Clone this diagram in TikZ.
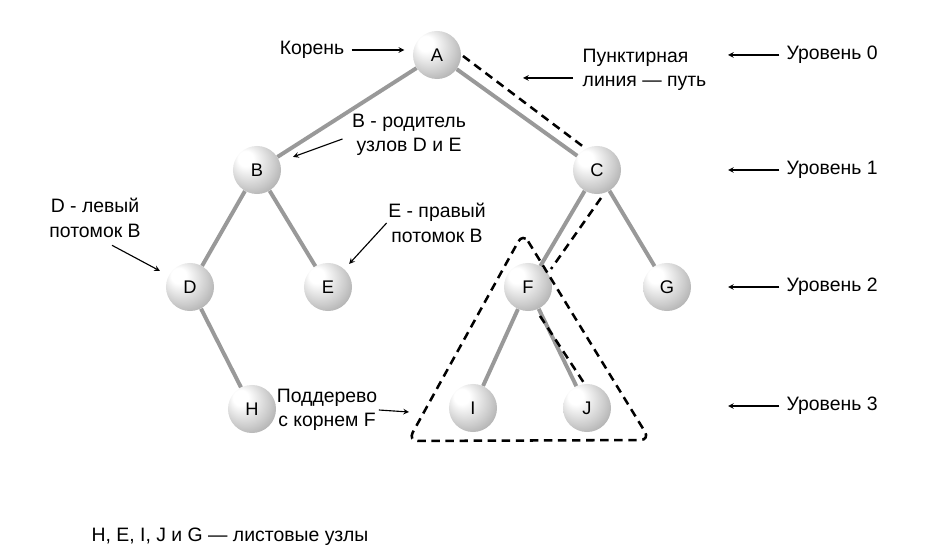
\documentclass[tikz,border=0pt]{standalone}
\usepackage{fontspec}
\setmainfont{Liberation Sans}
\usepackage{tikz}

\pgfdeclareradialshading{nodeball}{\pgfpoint{-14bp}{14bp}}{color(0bp)=(white); color(8bp)=(white); color(25bp)=(black!20); color(40bp)=(black!40); color(50bp)=(black!52)}

\begin{document}
\begin{tikzpicture}[x=0.025cm,y=-0.025cm,
  tree node/.style={circle,shading=nodeball,minimum size=1.2cm,inner sep=0pt,
    font=\fontsize{13}{15}\selectfont},
  tree edge/.style={line width=2.8pt,draw=black!40},
  path line/.style={line width=1.8pt,dash pattern=on 6pt off 4pt},
  note/.style={font=\fontsize{13.8}{17.5}\selectfont,align=center,inner sep=1pt},
  note arrow/.style={->,>=stealth,line width=0.8pt}]
  \useasboundingbox (0,0) rectangle (927,556);

  \node[tree node] (A) at (437,55) {A};
  \node[tree node] (B) at (257,170) {B};
  \node[tree node] (C) at (597,170) {C};
  \node[tree node] (D) at (190,287) {D};
  \node[tree node] (E) at (328,287) {E};
  \node[tree node] (F) at (528,287) {F};
  \node[tree node] (G) at (667,287) {G};
  \node[tree node] (H) at (252,409) {H};
  \node[tree node] (I) at (473,408) {I};
  \node[tree node] (J) at (587,408) {J};

  \path[tree edge]
    (A) edge (B)
        edge (C)
    (B) edge (D)
        edge (E)
    (C) edge (F)
        edge (G)
    (D) edge (H)
    (F) edge (I)
        edge (J);

  % dashed path A - C - F - J
  \draw[path line] ([shift={(26,1)}]A.center) -- ([shift={(-12,-22)}]C.center)
    ([shift={(4,28)}]C.center) -- ([shift={(23,-18)}]F.center)
    ([shift={(12,29)}]F.center) -- ([shift={(-3,-25)}]J.center);

  % subtree of F
  \coordinate (subTop) at (523,233);
  \coordinate (subRight) at (650,440);
  \coordinate (subLeft) at (408,441);
  \draw[path line,rounded corners=7pt] (subTop) -- (subRight) -- (subLeft) -- cycle;

  % notes
  \node[note] (rootnote) at (312,50) {Корень};
  \draw[note arrow,shorten <=4pt,shorten >=6pt] (rootnote.east) -- (A.west |- rootnote.east);

  \node[note,align=left,anchor=west] (pathnote) at (581,70) {Пунктирная\\линия — путь};
  \coordinate (pathtip) at (523,78);
  \draw[note arrow] ([shift={(-8,8)}]pathnote.west) -- (pathtip);

  \node[note] (parentnote) at (409,135) {B - родитель\\узлов D и E};
  \draw[note arrow,shorten >=10pt] ([shift={(-8,4)}]parentnote.west) -- (B);

  \node[note] (leftnote) at (95,218) {D - левый\\потомок B};
  \draw[note arrow,shorten >=7pt] ([shift={(17,6)}]leftnote.south) -- (D);

  \node[note] (rightnote) at (437,223) {E - правый\\потомок B};
  \draw[note arrow,shorten >=5pt] (rightnote.west) -- (E);

  \node[note] (subnote) at (327,410) {Поддерево\\с корнем F};
  \coordinate (subtip) at (409,412);
  \draw[note arrow] (subnote.east) -- (subtip);

  % levels
  \node[note,anchor=west] (lev0) at (785,55) {Уровень 0};
  \node[note,anchor=west] (lev1) at (785,170) {Уровень 1};
  \node[note,anchor=west] (lev2) at (785,287) {Уровень 2};
  \node[note,anchor=west] (lev3) at (785,406) {Уровень 3};
  \coordinate (lev0tip) at (728,55);
  \coordinate (lev1tip) at (728,170);
  \coordinate (lev2tip) at (728,287);
  \coordinate (lev3tip) at (728,406);
  \draw[note arrow,shorten <=4pt] (lev0.west) -- (lev0tip);
  \draw[note arrow,shorten <=4pt] (lev1.west) -- (lev1tip);
  \draw[note arrow,shorten <=4pt] (lev2.west) -- (lev2tip);
  \draw[note arrow,shorten <=4pt] (lev3.west) -- (lev3tip);

  \node[note,anchor=west] (leaves) at (90,537) {H, E, I, J и G — листовые узлы};
\end{tikzpicture}
\end{document}
